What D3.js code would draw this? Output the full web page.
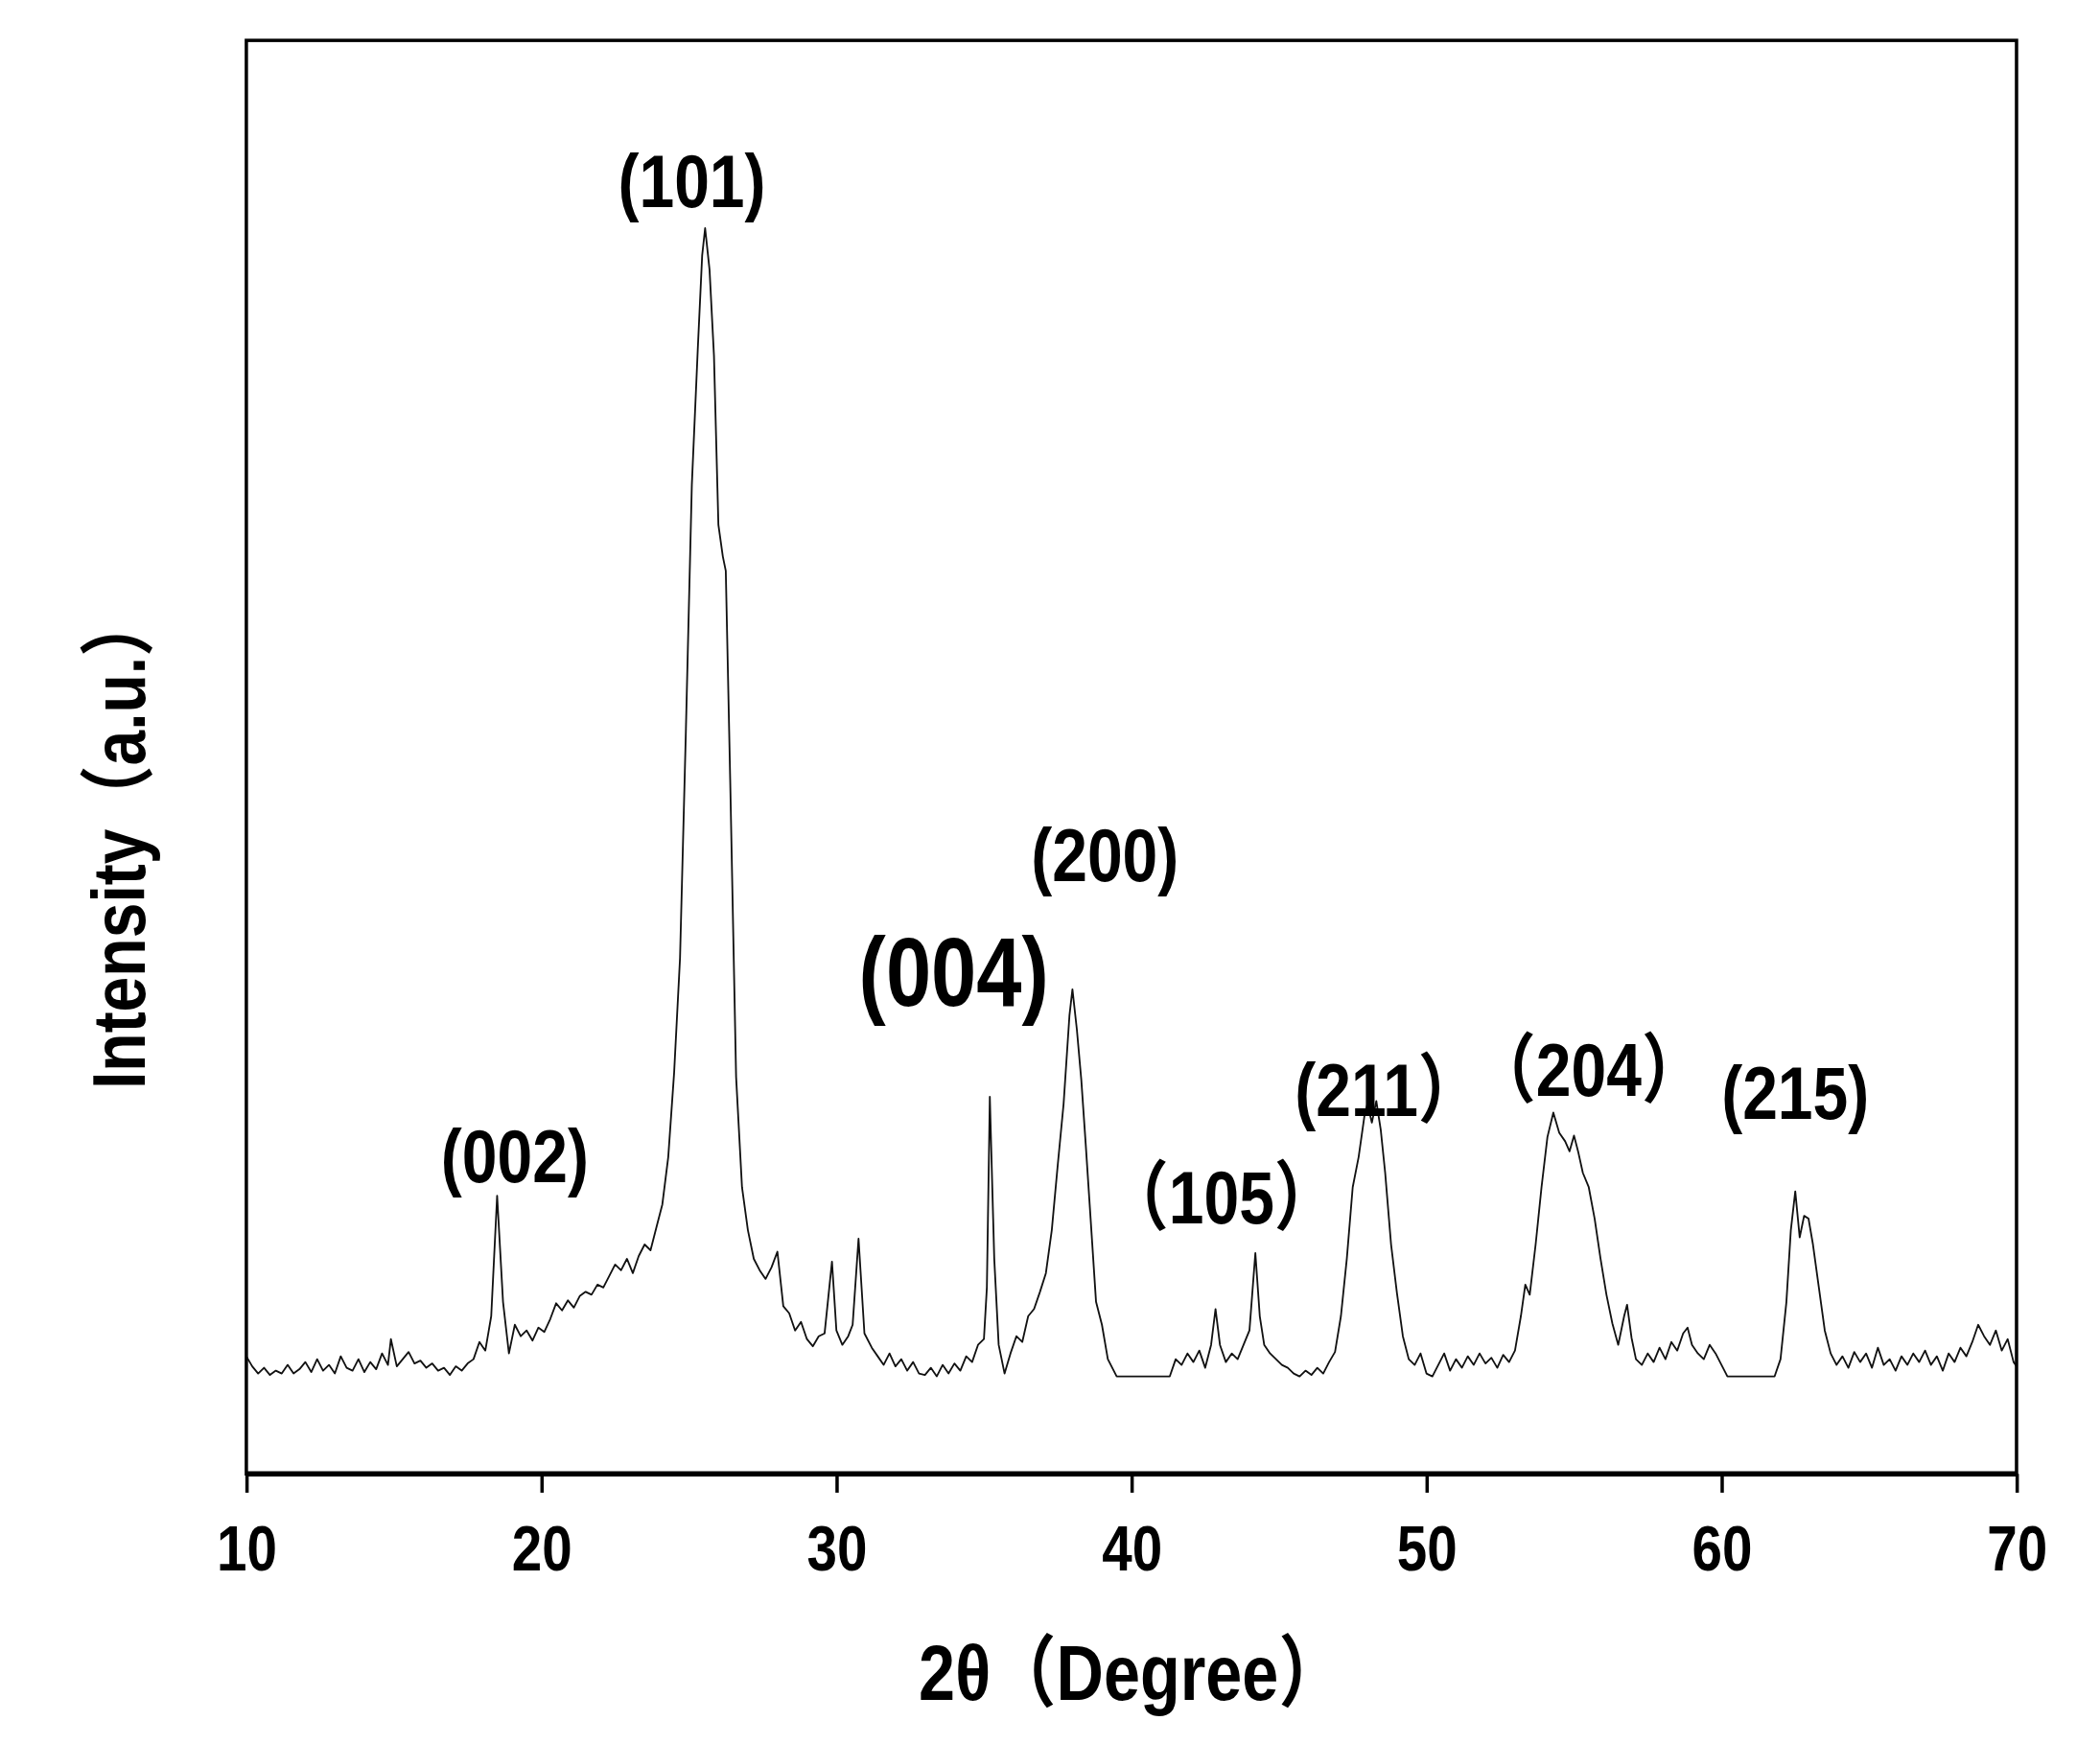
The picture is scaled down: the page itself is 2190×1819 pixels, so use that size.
<!DOCTYPE html>
<html><head><meta charset="utf-8">
<script src="https://cdn.jsdelivr.net/npm/d3@7"></script>
<style>body{margin:0;background:#fff}</style>
</head><body>
<svg id="svg" width="2190" height="1819" viewBox="0 0 1560 1295.7"></svg>
<script>
// XRD pattern, [2theta, intensity a.u.]
const pattern = [
[10.0,82],[10.2,75],[10.4,70],[10.6,74],[10.8,69],[11.0,72],[11.2,70],[11.4,76],[11.6,70],[11.8,73],
[12.0,78],[12.2,71],[12.4,80],[12.6,72],[12.8,76],[13.0,70],[13.2,82],[13.4,74],[13.6,72],[13.8,80],
[14.0,71],[14.2,78],[14.4,73],[14.6,84],[14.8,76],[14.9,94],[15.1,75],[15.3,80],[15.5,85],[15.7,77],
[15.9,79],[16.1,74],[16.3,77],[16.5,72],[16.7,74],[16.9,69],[17.1,75],[17.3,72],[17.5,77],[17.7,80],
[17.9,92],[18.1,86],[18.3,110],[18.5,194],[18.7,120],[18.9,84],[19.1,104],[19.3,96],[19.5,100],[19.7,93],
[19.9,102],[20.1,99],[20.3,108],[20.5,119],[20.7,114],[20.9,121],[21.1,116],[21.3,124],[21.5,127],[21.7,125],
[21.9,132],[22.1,130],[22.3,138],[22.5,146],[22.7,142],[22.9,150],[23.1,140],[23.3,152],[23.5,160],[23.7,156],
[23.9,172],[24.1,188],[24.3,221],[24.5,280],[24.7,360],[24.9,520],[25.1,690],[25.3,784],[25.45,850],[25.55,869],
[25.7,840],[25.85,780],[26.0,662],[26.15,640],[26.25,630],[26.4,484],[26.6,277],[26.8,200],[27.0,170],[27.2,150],
[27.4,142],[27.6,136],[27.8,144],[28.0,155],[28.2,117],[28.4,112],[28.6,100],[28.8,106],[29.0,94],[29.2,89],
[29.4,96],[29.6,98],[29.85,148],[30.0,100],[30.2,90],[30.4,96],[30.55,104],[30.75,164],[30.95,98],[31.2,88],
[31.4,82],[31.6,76],[31.8,84],[32.0,75],[32.2,80],[32.4,72],[32.6,78],[32.8,70],[33.0,69],[33.2,74],
[33.4,68],[33.6,76],[33.8,70],[34.0,77],[34.2,72],[34.4,82],[34.6,78],[34.8,90],[35.0,94],[35.1,130],
[35.2,263],[35.35,150],[35.5,90],[35.7,70],[35.9,84],[36.1,96],[36.3,92],[36.5,110],[36.7,115],[36.9,127],
[37.1,140],[37.3,170],[37.5,215],[37.7,258],[37.9,320],[38.0,338],[38.15,310],[38.3,275],[38.45,230],[38.6,183],
[38.8,120],[39.0,104],[39.2,80],[39.5,68],[41.3,68],[41.5,80],[41.7,76],[41.9,84],[42.1,78],[42.3,86],
[42.5,74],[42.7,90],[42.85,115],[43.0,90],[43.2,78],[43.4,84],[43.6,80],[43.8,90],[44.0,100],[44.2,154],
[44.35,110],[44.5,90],[44.7,84],[44.9,80],[45.1,76],[45.3,74],[45.5,70],[45.7,68],[45.9,72],[46.1,69],
[46.3,74],[46.5,70],[46.7,78],[46.9,85],[47.1,110],[47.3,150],[47.5,200],[47.7,221],[47.9,250],[48.0,258],
[48.15,245],[48.3,260],[48.45,240],[48.6,210],[48.8,160],[49.0,126],[49.2,96],[49.4,80],[49.6,76],[49.8,84],
[50.0,70],[50.2,68],[50.4,76],[50.6,84],[50.8,72],[51.0,80],[51.2,74],[51.4,82],[51.6,76],[51.8,84],
[52.0,77],[52.2,81],[52.4,74],[52.6,83],[52.8,78],[53.0,86],[53.2,110],[53.35,132],[53.5,125],[53.7,160],
[53.9,200],[54.1,235],[54.3,252],[54.5,238],[54.7,232],[54.85,225],[55.0,236],[55.15,224],[55.3,210],[55.5,200],
[55.7,178],[55.9,150],[56.1,125],[56.3,105],[56.5,90],[56.7,110],[56.8,118],[56.95,95],[57.1,80],[57.3,76],
[57.5,84],[57.7,78],[57.9,88],[58.1,80],[58.3,92],[58.5,86],[58.7,98],[58.85,102],[59.0,90],[59.2,84],
[59.4,80],[59.6,90],[59.8,84],[60.0,76],[60.2,68],[61.8,68],[62.0,80],[62.2,120],[62.35,170],[62.5,197],
[62.65,165],[62.8,180],[62.95,178],[63.1,160],[63.3,130],[63.5,100],[63.7,84],[63.9,76],[64.1,82],[64.3,74],
[64.5,85],[64.7,78],[64.9,84],[65.1,74],[65.3,88],[65.5,76],[65.7,80],[65.9,72],[66.1,82],[66.3,76],
[66.5,84],[66.7,78],[66.9,86],[67.1,76],[67.3,82],[67.5,72],[67.7,84],[67.9,78],[68.1,88],[68.3,82],
[68.5,92],[68.7,104],[68.9,96],[69.1,90],[69.3,100],[69.5,86],[69.7,94],[69.9,78],[70.0,75]
];

const peakLabels = ["(101)", "(004)", "(200)", "(002)", "（105）", "(211）", "（204）", "(215)"];
const peakLabelX = [25.1, 33.98, 39.1, 19.1, 43.05, 48.7, 55.5, 62.5];
const peakLabelY = [902, 350, 432, 222, 193, 268, 282, 266];
const peakLabelSize = [56, 72, 56, 56, 56, 56, 56, 56];

const xTicks = [10, 20, 30, 40, 50, 60, 70];

const svg = d3.select("#svg");
const margin = {top: 30, right: 62, bottom: 200.7, left: 183};
const W = 1560, H = 1295.7;
const squeeze = 0.84;

const x = d3.scaleLinear().domain([10, 70]).range([margin.left, W - margin.right]);
const y = d3.scaleLinear().domain([0, 1000]).range([H - margin.bottom, H - margin.bottom - 1065]);

const line = d3.line().x(d => x(d[0])).y(d => y(d[1]));

svg.append("path")
  .datum(pattern)
  .attr("fill", "none")
  .attr("stroke", "#111")
  .attr("stroke-width", 1.3)
  .attr("stroke-linejoin", "round")
  .attr("d", line);

// frame
svg.append("rect")
  .attr("x", x(10)).attr("y", y(1000))
  .attr("width", x(70) - x(10)).attr("height", y(0) - y(1000))
  .attr("fill", "none").attr("stroke", "#000").attr("stroke-width", 2.5);

const font = "Liberation Sans, Arial, 'Noto Sans CJK SC', sans-serif";

const xAxis = g => g
  .attr("transform", `translate(0,${y(0)})`)
  .call(d3.axisBottom(x).tickValues(xTicks).tickSize(14).tickPadding(22).tickFormat(d3.format("d")));

svg.append("g").call(xAxis)
  .call(g => g.select(".domain").attr("stroke-width", 4).attr("d", `M${x(10)},0H${x(70)}`))
  .call(g => g.selectAll(".tick line").attr("stroke-width", 2.5))
  .call(g => g.selectAll(".tick text")
    .attr("y", 0).attr("dy", null)
    .attr("dominant-baseline", "central")
    .attr("transform", `translate(0,55) scale(${squeeze},1)`)
    .attr("font-family", font)
    .attr("font-weight", "bold").attr("font-size", 48).attr("fill", "#000"));

svg.selectAll(".peak")
  .data(peakLabels)
  .enter()
  .append("text")
  .attr("class", "peak")
  .attr("transform", (d, i) => `translate(${x(peakLabelX[i])},${y(peakLabelY[i])}) scale(${squeeze},1)`)
  .attr("text-anchor", "middle")
  .attr("dominant-baseline", "central")
  .attr("font-family", font)
  .attr("font-weight", "bold")
  .attr("font-size", (d, i) => peakLabelSize[i])
  .text(d => d);

svg.append("text")
  .attr("transform", `translate(${(x(10) + x(70)) / 2},1243) scale(${squeeze},1)`)
  .attr("text-anchor", "middle").attr("dominant-baseline", "central")
  .attr("font-family", font).attr("font-weight", "bold").attr("font-size", 58)
  .text("2θ（Degree）");

svg.append("text")
  .attr("transform", `translate(88,625) rotate(-90) scale(${squeeze},1)`)
  .attr("text-anchor", "middle").attr("dominant-baseline", "central")
  .attr("font-family", font).attr("font-weight", "bold").attr("font-size", 56)
  .text("Intensity（a.u.）");
</script>
</body></html>
